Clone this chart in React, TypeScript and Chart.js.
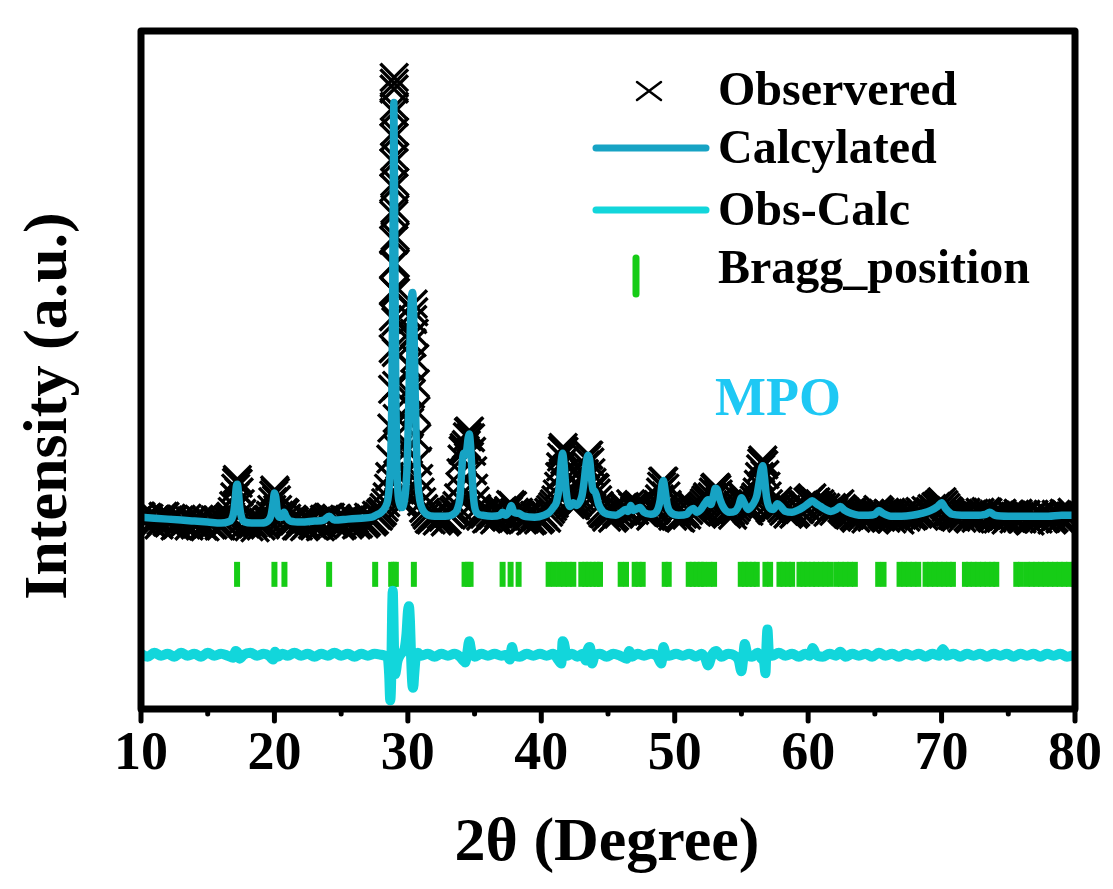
import { useEffect, useRef } from "react";
import { Chart, registerables } from "chart.js";

Chart.register(...registerables);

const FONT = '"Liberation Serif", "Times New Roman", serif';

// ---------- Calculated profile (2θ in degrees, intensity a.u.) ----------
const calcAngle = [
  10.0, 11.0, 12.0, 13.0, 14.0, 15.0, 16.0, 16.5, 16.8, 16.95,
  17.05, 17.15, 17.22, 17.3, 17.4, 17.55, 17.8, 18.3, 19.0, 19.5,
  19.75, 19.9, 20.0, 20.1, 20.2, 20.35, 20.55, 20.72, 20.9, 21.2,
  22.0, 23.0, 23.7, 24.1, 24.5, 25.5, 26.5, 27.3, 27.6, 28.0,
  28.3, 28.5, 28.62, 28.72, 28.8, 28.86, 28.91, 28.95, 28.99, 29.04,
  29.1, 29.17, 29.25, 29.4, 29.55, 29.7, 29.85, 29.97, 30.08, 30.18,
  30.27, 30.36, 30.44, 30.53, 30.63, 30.75, 30.9, 31.1, 31.4, 32.0,
  32.8, 33.4, 33.7, 33.9, 34.0, 34.1, 34.2, 34.3, 34.42, 34.52,
  34.6, 34.7, 34.8, 34.9, 35.0, 35.2, 35.6, 36.3, 36.9, 37.1,
  37.3, 37.55, 37.75, 37.95, 38.3, 38.7, 39.5, 40.2, 40.6, 40.9,
  41.15, 41.35, 41.5, 41.6, 41.7, 41.82, 41.95, 42.15, 42.4, 42.6,
  42.85, 43.05, 43.2, 43.35, 43.5, 43.62, 43.75, 43.88, 44.0, 44.12,
  44.3, 44.6, 45.0, 45.6, 46.0, 46.3, 46.5, 46.7, 46.9, 47.2,
  47.4, 47.7, 48.2, 48.65, 48.9, 49.05, 49.15, 49.28, 49.45, 49.7,
  50.3, 50.9, 51.15, 51.4, 51.65, 51.95, 52.25, 52.5, 52.7, 52.9,
  53.05, 53.2, 53.4, 53.7, 54.1, 54.5, 54.8, 55.0, 55.2, 55.5,
  55.85, 56.15, 56.35, 56.5, 56.6, 56.72, 56.88, 57.1, 57.4, 57.7,
  57.95, 58.3, 58.8, 59.2, 59.6, 60.0, 60.3, 60.6, 60.95, 61.3,
  61.7, 62.1, 62.4, 62.75, 63.2, 63.8, 64.5, 65.0, 65.3, 65.6,
  66.2, 67.0, 67.8, 68.5, 69.2, 69.7, 70.0, 70.3, 70.8, 71.5,
  72.5, 73.3, 73.6, 74.0, 75.0, 76.5, 78.0, 79.0, 80.0,
];
const calcIntensity = [
  198, 197, 196, 195, 194, 193, 192, 193, 196, 203,
  215, 230, 232, 224, 208, 197, 193, 192, 192, 194,
  200, 213, 223, 219, 206, 198, 198, 203, 198, 194,
  193, 194, 195, 199, 195, 196, 197, 198, 200, 203,
  208, 216, 232, 262, 320, 420, 540, 626, 560, 430,
  320, 255, 225, 211, 208, 212, 228, 260, 320, 390,
  425, 430, 405, 340, 275, 235, 215, 206, 201, 199,
  199, 201, 206, 218, 238, 258, 264, 262, 268, 280,
  284, 272, 246, 222, 209, 202, 200, 199, 200, 203,
  200, 203, 210, 203, 202, 199, 198, 200, 203, 208,
  214, 230, 256, 264, 254, 232, 216, 209, 213, 210,
  213, 220, 234, 252, 262, 258, 240, 226, 225, 221,
  211, 204, 201, 200, 203, 206, 204, 210, 205, 207,
  208, 203, 201, 204, 215, 232, 236, 226, 210, 203,
  200, 201, 205, 207, 203, 206, 212, 216, 211, 220,
  228, 226, 216, 207, 203, 204, 210, 218, 213, 206,
  211, 220, 236, 248, 251, 240, 219, 208, 206, 212,
  209, 204, 203, 205, 208, 212, 215, 212, 209, 206,
  204, 206, 209, 205, 202, 200, 200, 201, 205, 202,
  199, 199, 200, 202, 205, 209, 213, 207, 201, 200,
  200, 201, 203, 200, 199, 199, 199, 200, 200,
];

// ---------- Observed points ----------
const obsAngle = [
  // 10 – 16.3
  10.0, 10.15, 10.3, 10.45, 10.6, 10.75, 10.9, 11.05, 11.2, 11.35,
  11.5, 11.65, 11.8, 11.95, 12.1, 12.25, 12.4, 12.55, 12.7, 12.85,
  13.0, 13.15, 13.3, 13.45, 13.6, 13.75, 13.9, 14.05, 14.2, 14.35,
  14.5, 14.65, 14.8, 14.95, 15.1, 15.25, 15.4, 15.55, 15.7, 15.85,
  16.0, 16.15, 16.3,
  // 17.2 peak
  16.45, 16.6, 16.72, 16.84, 16.95, 17.03, 17.1, 17.16, 17.22, 17.28,
  17.35, 17.44, 17.55, 17.68, 17.82, 17.96,
  // 18 – 19.5
  18.1, 18.25, 18.4, 18.55, 18.7, 18.85, 19.0, 19.15, 19.3, 19.45,
  // 20 peak
  19.58, 19.7, 19.8, 19.88, 19.95, 20.02, 20.08, 20.15, 20.24, 20.34,
  20.46, 20.58, 20.7, 20.8, 20.92, 21.05,
  // 21 – 28
  21.2, 21.35, 21.5, 21.65, 21.8, 21.95, 22.1, 22.25, 22.4, 22.55,
  22.7, 22.85, 23.0, 23.15, 23.3, 23.45, 23.6, 23.75, 23.9, 24.05,
  24.2, 24.35, 24.5, 24.65, 24.8, 24.95, 25.1, 25.25, 25.4, 25.55,
  25.7, 25.85, 26.0, 26.15, 26.3, 26.45, 26.6, 26.75, 26.9, 27.05,
  27.2, 27.35, 27.5, 27.65, 27.8, 27.95,
  // main peak
  28.1, 28.22, 28.34, 28.45, 28.55, 28.64, 28.72, 28.8, 28.86, 28.9,
  28.92, 28.93, 28.935, 28.94, 28.945, 28.95, 28.955, 28.96, 28.965, 28.97,
  28.975, 28.98, 28.99, 29.0, 29.01, 29.02, 29.03, 29.045, 29.06, 29.08,
  29.1, 29.13, 29.16, 29.2, 29.25, 29.32, 29.4, 29.5, 29.6, 29.72,
  29.84,
  // 30.4 peak
  29.95, 30.05, 30.13, 30.2, 30.26, 30.31, 30.36, 30.4, 30.44, 30.48,
  30.52, 30.56, 30.61, 30.67, 30.74, 30.82, 30.92, 31.04, 31.18, 31.32,
  // 31.5 – 33.4
  31.45, 31.6, 31.75, 31.9, 32.05, 32.2, 32.35, 32.5, 32.65, 32.8,
  32.95, 33.1, 33.25, 33.4,
  // 34.5 peak
  33.55, 33.68, 33.8, 33.9, 33.98, 34.06, 34.14, 34.22, 34.3, 34.38,
  34.46, 34.54, 34.62, 34.7, 34.78, 34.86, 34.94, 35.04, 35.16, 35.3,
  // 35.5 – 40.7
  35.45, 35.6, 35.75, 35.9, 36.05, 36.2, 36.35, 36.5, 36.65, 36.8,
  36.95, 37.1, 37.25, 37.4, 37.55, 37.7, 37.85, 38.0, 38.15, 38.3,
  38.45, 38.6, 38.75, 38.9, 39.05, 39.2, 39.35, 39.5, 39.65, 39.8,
  39.95, 40.1, 40.25, 40.4, 40.55, 40.7,
  // 41.6 peak
  40.85, 40.98, 41.1, 41.2, 41.3, 41.38, 41.45, 41.52, 41.58, 41.64,
  41.7, 41.76, 41.83, 41.9, 41.98, 42.08, 42.2, 42.32, 42.44, 42.56,
  42.68, 42.8, 42.92,
  // 43.5 peak
  43.04, 43.14, 43.23, 43.32, 43.4, 43.48, 43.56, 43.64, 43.72, 43.8,
  43.88, 43.96, 44.04, 44.12, 44.22, 44.34, 44.48, 44.62,
  // 44.7 – 48.5
  44.75, 44.9, 45.05, 45.2, 45.35, 45.5, 45.65, 45.8, 45.95, 46.1,
  46.25, 46.4, 46.55, 46.7, 46.85, 47.0, 47.15, 47.3, 47.45, 47.6,
  47.75, 47.9, 48.05, 48.2, 48.35, 48.5,
  // 49.1 peak
  48.64, 48.76, 48.86, 48.94, 49.02, 49.1, 49.18, 49.26, 49.34, 49.44,
  49.56, 49.7,
  // 49.8 – 52.1
  49.85, 50.0, 50.15, 50.3, 50.45, 50.6, 50.75, 50.9, 51.05, 51.2,
  51.35, 51.5, 51.65, 51.8, 51.95, 52.1,
  // 53 peak
  52.22, 52.34, 52.46, 52.58, 52.7, 52.8, 52.9, 53.0, 53.08, 53.16,
  53.26, 53.38, 53.5, 53.64,
  // 53.8 – 56.1
  53.78, 53.92, 54.06, 54.2, 54.34, 54.48, 54.62, 54.74, 54.86, 54.96,
  55.06, 55.16, 55.28, 55.42, 55.56, 55.7, 55.84, 55.96, 56.08,
  // 56.6 peak
  56.18, 56.27, 56.36, 56.44, 56.52, 56.6, 56.68, 56.76, 56.84, 56.93,
  57.03, 57.14,
  // 57.3 – 63
  57.28, 57.43, 57.58, 57.73, 57.88, 58.03, 58.18, 58.33, 58.48, 58.63,
  58.78, 58.93, 59.08, 59.23, 59.38, 59.53, 59.68, 59.83, 59.98, 60.13,
  60.28, 60.43, 60.58, 60.73, 60.88, 61.03, 61.18, 61.33, 61.48, 61.63,
  61.78, 61.93, 62.08, 62.23, 62.38, 62.53, 62.68, 62.83, 62.98,
  // 63.1 – 70.9
  63.13, 63.28, 63.43, 63.58, 63.73, 63.88, 64.03, 64.18, 64.33, 64.48,
  64.63, 64.78, 64.93, 65.08, 65.23, 65.38, 65.53, 65.68, 65.83, 65.98,
  66.13, 66.28, 66.43, 66.58, 66.73, 66.88, 67.03, 67.18, 67.33, 67.48,
  67.63, 67.78, 67.93, 68.08, 68.23, 68.38, 68.53, 68.68, 68.83, 68.98,
  69.13, 69.28, 69.43, 69.58, 69.73, 69.88, 70.03, 70.18, 70.33, 70.48,
  70.63, 70.78, 70.93,
  // 71 – 80
  71.08, 71.23, 71.38, 71.53, 71.68, 71.83, 71.98, 72.13, 72.28, 72.43,
  72.58, 72.73, 72.88, 73.03, 73.18, 73.33, 73.48, 73.63, 73.78, 73.93,
  74.08, 74.23, 74.38, 74.53, 74.68, 74.83, 74.98, 75.13, 75.28, 75.43,
  75.58, 75.73, 75.88, 76.03, 76.18, 76.33, 76.48, 76.63, 76.78, 76.93,
  77.08, 77.23, 77.38, 77.53, 77.68, 77.83, 77.98, 78.13, 78.28, 78.43,
  78.58, 78.73, 78.88, 79.03, 79.18, 79.33, 79.48, 79.63, 79.78, 79.93,
];
const obsIntensity = [
  // 10 – 16.3
  199, 194, 193, 198, 197, 192, 191, 196, 196, 190,
  194, 199, 199, 193, 192, 197, 195, 189, 190, 195,
  196, 191, 193, 197, 189, 194, 195, 190, 191, 196,
  194, 189, 188, 194, 193, 190, 190, 195, 195, 189,
  189, 194, 192,
  // 17.2 peak
  195, 197, 199, 204, 210, 219, 228, 234, 237, 233,
  224, 212, 202, 196, 191, 193,
  // 18 – 19.5
  188, 193, 191, 187, 192, 194, 189, 193, 190, 195,
  // 20 peak
  196, 200, 206, 214, 221, 226, 224, 216, 206, 200,
  196, 198, 203, 202, 197, 193,
  // 21 – 28
  191, 196, 194, 189, 189, 195, 193, 188, 190, 195,
  195, 190, 189, 194, 193, 188, 191, 196, 196, 198,
  198, 193, 192, 197, 194, 189, 190, 196, 195, 190,
  192, 197, 196, 190, 191, 196, 195, 191, 193, 198,
  197, 193, 195, 200, 199, 202,
  // main peak
  204, 208, 213, 219, 228, 240, 258, 290, 330, 372,
  405, 432, 459, 484, 510, 538, 564, 590, 616, 640,
  652, 646, 622, 596, 570, 544, 516, 488, 460, 430,
  400, 368, 334, 300, 268, 240, 226, 216, 212, 214,
  224,
  // 30.4 peak
  245, 268, 296, 325, 352, 378, 402, 418, 410, 388,
  362, 336, 308, 280, 256, 238, 224, 214, 207, 203,
  // 31.5 – 33.4
  200, 196, 195, 200, 199, 194, 196, 200, 198, 193,
  195, 201, 200, 204,
  // 34.5 peak
  206, 210, 218, 230, 244, 258, 267, 270, 267, 273,
  281, 286, 287, 280, 266, 246, 228, 215, 207, 202,
  // 35.5 – 40.7
  199, 203, 201, 196, 197, 202, 200, 195, 197, 201,
  203, 205, 200, 198, 205, 211, 210, 203, 199, 203,
  200, 195, 196, 201, 199, 194, 195, 200, 198, 195,
  197, 202, 199, 197, 203, 206,
  // 41.6 peak
  209, 212, 216, 222, 230, 240, 250, 260, 267, 270,
  266, 257, 244, 232, 222, 215, 211, 215, 213, 210,
  213, 216, 219,
  // 43.5 peak
  226, 234, 243, 252, 258, 262, 262, 255, 244, 234,
  228, 229, 228, 223, 216, 210, 205, 202,
  // 44.7 – 48.5
  201, 198, 203, 202, 197, 199, 203, 201, 205, 208,
  209, 204, 203, 212, 209, 205, 209, 211, 209, 203,
  202, 206, 204, 199, 201, 205,
  // 49.1 peak
  207, 211, 217, 224, 230, 235, 235, 228, 220, 211,
  206, 203,
  // 49.8 – 52.1
  199, 202, 203, 198, 197, 201, 203, 200, 205, 208,
  209, 205, 203, 206, 208, 210,
  // 53 peak
  213, 216, 219, 216, 214, 219, 224, 228, 229, 227,
  222, 215, 210, 206,
  // 53.8 – 56.1
  203, 201, 205, 204, 200, 205, 208, 211, 215, 220,
  220, 215, 210, 206, 204, 208, 212, 216, 219,
  // 56.6 peak
  224, 232, 240, 248, 254, 257, 252, 242, 230, 220,
  212, 207,
  // 57.3 – 63
  205, 209, 212, 215, 210, 207, 204, 206, 201, 203,
  206, 201, 203, 207, 206, 210, 211, 209, 214, 216,
  218, 213, 214, 210, 212, 209, 206, 208, 203, 205,
  208, 204, 208, 210, 212, 207, 205, 203, 201,
  // 63.1 – 70.9
  200, 203, 199, 197, 202, 200, 198, 201, 196, 199,
  202, 198, 201, 203, 206, 204, 201, 199, 197, 202,
  200, 196, 199, 201, 197, 195, 200, 202, 198, 201,
  203, 199, 200, 203, 201, 204, 202, 199, 205, 203,
  204, 207, 206, 209, 210, 212, 214, 211, 208, 205,
  203, 200, 199,
  // 71 – 80
  198, 202, 200, 197, 201, 203, 198, 196, 201, 202,
  197, 199, 203, 200, 201, 204, 203, 199, 197, 201,
  200, 196, 198, 202, 199, 195, 197, 201, 200, 196,
  198, 202, 199, 196, 200, 201, 196, 194, 199, 201,
  197, 196, 201, 200, 196, 197, 201, 199, 195, 197,
  201, 200, 196, 198, 202, 201, 197, 199, 203, 200,
];

// ---------- Difference curve (Obs - Calc, offset) ----------
const diffAngle = [
  10.0, 10.5, 11.0, 11.5, 12.0, 12.5, 13.0, 13.5, 14.0, 14.5,
  15.0, 15.5, 16.0, 16.5, 16.9, 17.1, 17.25, 17.4, 17.7, 18.2,
  18.7, 19.2, 19.6, 19.9, 20.05, 20.25, 20.6, 21.0, 21.5, 22.0,
  22.5, 23.0, 23.5, 24.0, 24.5, 25.0, 25.5, 26.0, 26.5, 27.0,
  27.5, 28.0, 28.3, 28.5, 28.6, 28.68, 28.75, 28.82, 28.87, 28.92,
  28.98, 29.05, 29.12, 29.2, 29.35, 29.55, 29.75, 29.9, 30.0, 30.08,
  30.16, 30.24, 30.32, 30.4, 30.48, 30.58, 30.75, 31.0, 31.5, 32.0,
  32.5, 33.0, 33.5, 33.9, 34.15, 34.3, 34.45, 34.6, 34.75, 35.0,
  35.5, 36.0, 36.5, 37.0, 37.4, 37.65, 37.8, 37.95, 38.4, 38.9,
  39.4, 39.9, 40.4, 40.9, 41.3, 41.5, 41.6, 41.7, 41.9, 42.3,
  42.7, 43.1, 43.35, 43.5, 43.65, 43.8, 44.0, 44.4, 44.9, 45.4,
  45.9, 46.4, 46.6, 46.8, 47.2, 47.7, 48.2, 48.7, 49.0, 49.15,
  49.3, 49.6, 50.1, 50.6, 51.1, 51.6, 52.0, 52.3, 52.5, 52.8,
  53.1, 53.5, 54.0, 54.5, 54.8, 55.0, 55.1, 55.25, 55.45, 55.8,
  56.2, 56.5, 56.7, 56.8, 56.88, 56.95, 57.05, 57.3, 57.8, 58.3,
  58.8, 59.3, 59.8, 60.1, 60.35, 60.6, 61.1, 61.6, 62.1, 62.4,
  62.8, 63.3, 63.8, 64.3, 64.8, 65.3, 65.8, 66.3, 66.8, 67.3,
  67.8, 68.3, 68.8, 69.3, 69.8, 70.1, 70.4, 70.9, 71.4, 71.9,
  72.4, 72.9, 73.4, 73.9, 74.4, 74.9, 75.4, 75.9, 76.4, 76.9,
  77.4, 77.9, 78.4, 78.9, 79.4, 80.0,
];
const diffIntensity = [
  57, 54, 58, 55, 57, 54, 58, 55, 57, 54,
  58, 55, 57, 55, 53, 60, 58, 52, 56, 58,
  55, 57, 55, 51, 59, 54, 57, 55, 58, 55,
  57, 54, 57, 55, 58, 55, 57, 54, 57, 55,
  57, 56, 55, 52, 35, 9, 30, 100, 122, 95,
  50, 36, 40, 48, 54, 58, 62, 78, 100, 106,
  90, 55, 28, 22, 36, 52, 58, 55, 57, 54,
  57, 55, 57, 54, 50, 48, 58, 70, 60, 54,
  57, 55, 57, 55, 56, 51, 64, 56, 54, 57,
  55, 57, 55, 57, 50, 47, 70, 68, 55, 57,
  54, 57, 50, 62, 64, 47, 55, 57, 54, 57,
  55, 52, 60, 54, 57, 55, 57, 54, 47, 64,
  58, 55, 57, 55, 57, 54, 57, 52, 45, 56,
  60, 54, 57, 55, 50, 39, 48, 67, 56, 54,
  58, 52, 48, 37, 66, 82, 60, 55, 58, 55,
  57, 54, 57, 55, 63, 56, 54, 57, 55, 59,
  54, 57, 55, 57, 54, 58, 55, 57, 54, 57,
  55, 57, 54, 57, 55, 62, 55, 57, 54, 57,
  55, 57, 54, 57, 55, 57, 54, 57, 55, 57,
  54, 57, 55, 57, 54, 56,
];

// ---------- Bragg reflection positions ----------
const braggAngle = [
  17.2, 20.0, 20.75, 24.1, 27.55, 28.75, 28.95, 29.1, 30.45, 34.25,
  34.5, 34.7, 37.1, 37.7, 38.3, 40.55, 40.95, 41.35, 41.7, 42.05,
  42.4, 43.0, 43.3, 43.55, 43.85, 44.15, 44.4, 45.95, 46.35, 47.0,
  47.3, 47.6, 49.25, 49.55, 51.05, 51.35, 51.65, 51.95, 52.2, 52.6,
  52.95, 54.95, 55.25, 55.55, 55.85, 56.15, 56.8, 57.15, 57.85, 58.15,
  58.5, 58.8, 59.35, 59.65, 59.95, 60.3, 60.6, 60.95, 61.3, 61.65,
  62.1, 62.45, 62.8, 63.15, 63.5, 65.25, 65.65, 66.85, 67.2, 67.55,
  67.9, 68.25, 68.8, 69.15, 69.5, 69.85, 70.2, 70.55, 70.85, 71.75,
  72.05, 72.4, 72.75, 73.1, 73.45, 73.8, 74.1, 75.6, 75.95, 76.4,
  76.75, 77.1, 77.45, 77.8, 78.15, 78.5, 78.85, 79.2, 79.55, 79.9,
];
const braggLevel = 139;

// ---------- Axis / labels ----------
const xMajorTicks = [10, 20, 30, 40, 50, 60, 70, 80];
const xMinorTicks = [15, 25, 35, 45, 55, 65, 75];
const xTitle = "2θ (Degree)";
const yTitle = "Intensity (a.u.)";
const legendLabels = ["Observered", "Calcylated", "Obs-Calc", "Bragg_position"];
const sampleLabel = "MPO";

const calcColor = "#17a3c4";
const diffColor = "#12d6db";
const braggColor = "#16cc16";
const mpoColor = "#1ec8f4";

const toXY = (xs: number[], ys: number[]) =>
  xs.slice(0, Math.min(xs.length, ys.length)).map((x, i) => ({ x, y: ys[i] }));

export default function App() {
  const ref = useRef<HTMLCanvasElement>(null);

  useEffect(() => {
    if (!ref.current) return;

    const deco = {
      id: "deco",
      afterDatasetsDraw(chart: any) {
        const { ctx, chartArea } = chart;
        const { left, right, top, bottom } = chartArea;
        const xs = chart.scales.x;
        ctx.save();
        ctx.strokeStyle = "#000";
        ctx.lineWidth = 7;
        ctx.lineJoin = "round";
        ctx.strokeRect(left, top, right - left, bottom - top);
        ctx.lineCap = "round";
        ctx.lineWidth = 5;
        for (const v of xMajorTicks) {
          const px = xs.getPixelForValue(v);
          ctx.beginPath();
          ctx.moveTo(px, bottom);
          ctx.lineTo(px, bottom + 12);
          ctx.stroke();
        }
        for (const v of xMinorTicks) {
          const px = xs.getPixelForValue(v);
          ctx.beginPath();
          ctx.moveTo(px, bottom);
          ctx.lineTo(px, bottom + 5);
          ctx.stroke();
        }
        ctx.restore();
      },
      afterDraw(chart: any) {
        const { ctx } = chart;
        ctx.save();
        ctx.fillStyle = "#000";
        ctx.font = `bold 62px ${FONT}`;
        ctx.textAlign = "center";
        ctx.textBaseline = "alphabetic";
        ctx.fillText(xTitle, 599, 852);
        ctx.save();
        ctx.translate(58, 398);
        ctx.rotate(-Math.PI / 2);
        ctx.fillText(yTitle, 0, 0);
        ctx.restore();

        ctx.fillStyle = mpoColor;
        ctx.font = `bold 54px ${FONT}`;
        ctx.fillText(sampleLabel, 770, 407);

        ctx.textAlign = "left";
        ctx.fillStyle = "#000";
        ctx.font = `bold 48px ${FONT}`;
        const tx = 710;
        const baselines = [97, 155, 217, 275];
        legendLabels.forEach((t, i) => ctx.fillText(t, tx, baselines[i]));

        ctx.lineCap = "round";
        ctx.strokeStyle = "#000";
        ctx.lineWidth = 2.5;
        ctx.beginPath();
        ctx.moveTo(629, 74);
        ctx.lineTo(653, 92);
        ctx.moveTo(653, 74);
        ctx.lineTo(629, 92);
        ctx.stroke();
        ctx.lineWidth = 7;
        ctx.strokeStyle = calcColor;
        ctx.beginPath();
        ctx.moveTo(588, 140);
        ctx.lineTo(698, 140);
        ctx.stroke();
        ctx.strokeStyle = diffColor;
        ctx.beginPath();
        ctx.moveTo(588, 202);
        ctx.lineTo(698, 202);
        ctx.stroke();
        ctx.strokeStyle = braggColor;
        ctx.lineWidth = 7;
        ctx.beginPath();
        ctx.moveTo(628, 250);
        ctx.lineTo(628, 286);
        ctx.stroke();
        ctx.restore();
      },
    };

    const chart = new Chart(ref.current, {
      type: "scatter",
      data: {
        datasets: [
          {
            label: legendLabels[1],
            data: toXY(calcAngle, calcIntensity),
            showLine: true,
            borderColor: calcColor,
            borderWidth: 7.5,
            pointRadius: 0,
            cubicInterpolationMode: "monotone",
            borderCapStyle: "round",
            borderJoinStyle: "round",
            order: 0,
          } as any,
          {
            label: legendLabels[2],
            data: toXY(diffAngle, diffIntensity),
            showLine: true,
            borderColor: diffColor,
            borderWidth: 10,
            pointRadius: 0,
            cubicInterpolationMode: "monotone",
            borderCapStyle: "round",
            borderJoinStyle: "round",
            order: 1,
          } as any,
          {
            label: legendLabels[3],
            data: braggAngle.map((x) => ({ x, y: braggLevel })),
            showLine: false,
            pointStyle: "line",
            pointRotation: 90,
            pointRadius: 12.5,
            pointBorderWidth: 6,
            pointBorderColor: braggColor,
            borderColor: braggColor,
            order: 2,
          } as any,
          {
            label: legendLabels[0],
            data: toXY(obsAngle, obsIntensity),
            showLine: false,
            pointStyle: "crossRot",
            pointRadius: 19.5,
            pointBorderWidth: 3.4,
            pointBorderColor: "#000",
            borderColor: "#000",
            backgroundColor: "#000",
            order: 3,
          } as any,
        ],
      },
      options: {
        responsive: false,
        animation: false,
        events: [],
        layout: { padding: { left: 133, right: 30, top: 3, bottom: 0 } },
        plugins: {
          legend: { display: false },
          tooltip: { enabled: false },
        },
        scales: {
          x: {
            type: "linear",
            min: 10,
            max: 80,
            grid: { display: false, drawTicks: false },
            border: { display: false },
            afterBuildTicks: (s: any) => {
              s.ticks = xMajorTicks.map((v) => ({ value: v }));
            },
            afterFit: (s: any) => {
              s.height = 172;
            },
            ticks: {
              color: "#000",
              padding: 0,
              maxRotation: 0,
              font: { family: FONT, size: 54, weight: "bold", lineHeight: 1.72 },
            },
          },
          y: {
            type: "linear",
            min: 0,
            max: 700,
            display: false,
          },
        },
      } as any,
      plugins: [deco],
    });

    return () => chart.destroy();
  }, []);

  return (
    <div style={{ width: 1097, height: 873 }}>
      <canvas ref={ref} width={1097} height={873} style={{ display: "block" }} />
    </div>
  );
}
